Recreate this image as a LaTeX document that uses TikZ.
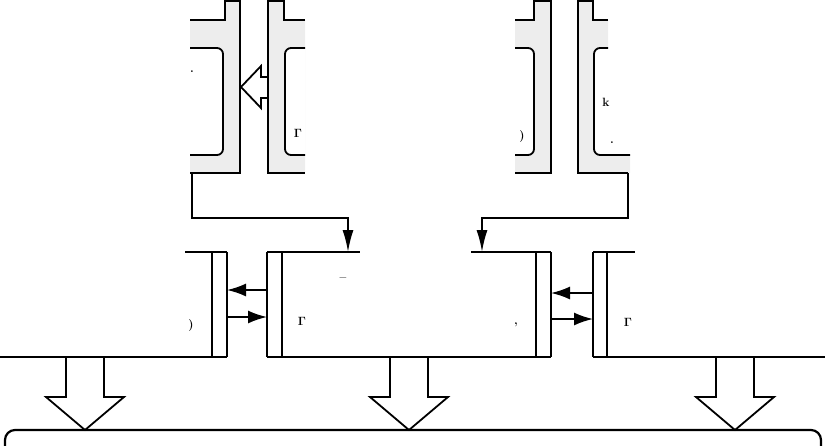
\documentclass[tikz,border=0pt]{standalone}
\usetikzlibrary{arrows.meta,calc}
\begin{document}
\begin{tikzpicture}[x=1pt,y=-1pt,
  ln/.style={line width=1.8pt,line cap=butt,line join=miter},
  grayfill/.style={fill=black!7},
  hollow/.style={draw,fill=white,line width=1.8pt,line join=miter},
  tipsmall/.style={-{Latex[length=19pt,width=13pt]}},
  tiplong/.style={-{Latex[length=22pt,width=11pt]}},
  frag/.style={font=\bfseries\large,inner sep=0pt}]
\useasboundingbox (0,0) rectangle (825,445);
\clip (0,0) rectangle (825,445);

% ---------- top-left pair: left shape ----------
\fill[grayfill] (190,20) -- (225,20) -- (225,1) -- (240,1) -- (240,173) -- (190,173) -- cycle;
\begin{scope}
  \clip (190,0) rectangle (240,200);
  \fill[white,rounded corners=6pt] (170,48) rectangle (223,155);
\end{scope}
\draw[ln,rounded corners=6pt] (190,48) -- (223,48) -- (223,155) -- (190,155);
\draw[ln] (190,20) -- (225,20) -- (225,1) -- (240,1) -- (240,173) -- (190,173);
\coordinate (tlA) at (192,173);

% ---------- top-left pair: right shape ----------
\fill[grayfill] (268,1) -- (284,1) -- (284,20) -- (305,20) -- (305,173) -- (268,173) -- cycle;
\begin{scope}
  \clip (250,0) rectangle (305,200);
  \fill[white,rounded corners=6pt] (285,48) rectangle (330,155);
\end{scope}
\draw[ln,rounded corners=6pt] (305,48) -- (285,48) -- (285,155) -- (305,155);
\draw[ln] (305,20) -- (284,20) -- (284,1) -- (268,1) -- (268,173) -- (305,173);

% hollow arrow between them
\draw[hollow] (241,87) -- (261,66) -- (261,77) -- (268,77) -- (268,98) -- (261,98) -- (261,108) -- cycle;

% ---------- top-right pair: left shape ----------
\fill[grayfill] (515,20) -- (534,20) -- (534,1) -- (551,1) -- (551,173) -- (515,173) -- cycle;
\begin{scope}
  \clip (515,0) rectangle (551,200);
  \fill[white,rounded corners=6pt] (495,48) rectangle (534,155);
\end{scope}
\draw[ln,rounded corners=6pt] (515,48) -- (534,48) -- (534,155) -- (515,155);
\draw[ln] (515,20) -- (534,20) -- (534,1) -- (551,1) -- (551,173) -- (515,173);

% ---------- top-right pair: right shape ----------
\fill[grayfill] (578,1) -- (593,1) -- (593,20) -- (608,20) -- (608,155) -- (630,155) -- (630,173) -- (578,173) -- cycle;
\begin{scope}
  \clip (560,0) rectangle (630,200);
  \fill[white,rounded corners=6pt] (594,48) rectangle (650,155);
\end{scope}
\draw[ln,rounded corners=6pt] (608,48) -- (594,48) -- (594,155) -- (630,155);
\draw[ln] (608,20) -- (593,20) -- (593,1) -- (578,1) -- (578,173) -- (628,173);
\coordinate (trB) at (628,173);

% ---------- middle boxes ----------
\draw[ln] (185,252) -- (227,252);
\draw[ln] (212,252) -- (212,357);
\draw[ln] (227,252) -- (227,357);
\draw[ln] (267,252) -- (360,252);
\draw[ln] (267,252) -- (267,357);
\draw[ln] (282,252) -- (282,357);
\draw[ln] (471,252) -- (551,252);
\draw[ln] (536,252) -- (536,357);
\draw[ln] (551,252) -- (551,357);
\draw[ln] (593,252) -- (635,252);
\draw[ln] (593,252) -- (593,357);
\draw[ln] (607,252) -- (607,357);
\draw[ln] (0,357) -- (227,357);
\draw[ln] (267,357) -- (551,357);
\draw[ln] (593,357) -- (825,357);

\coordinate (b2in) at (348,252);
\coordinate (b3in) at (482,252);

% connectors from top shapes to middle boxes
\draw[ln,tiplong] (tlA) -- ++(0,45) -| (b2in);
\draw[ln,tiplong] (trB) -- ++(0,45) -| (b3in);

% small arrows between middle boxes
\coordinate (b1r1) at (227,290);
\coordinate (b2l1) at (267,290);
\coordinate (b1r2) at (227,317);
\coordinate (b2l2) at (267,317);
\coordinate (b3r1) at (551,293);
\coordinate (b4l1) at (593,293);
\coordinate (b3r2) at (551,319);
\coordinate (b4l2) at (593,319);
\draw[ln,tipsmall] (b2l1) -- (b1r1);
\draw[ln,tipsmall] (b1r2) -- (b2l2);
\draw[ln,tipsmall] (b4l1) -- (b3r1);
\draw[ln,tipsmall] (b3r2) -- (b4l2);

% ---------- big hollow down arrows ----------
\foreach \cx in {85,409,735} {
  \draw[hollow] (\cx-19,357) -- (\cx-19,397) -- (\cx-39,397) -- (\cx,430)
     -- (\cx+39,397) -- (\cx+19,397) -- (\cx+19,357) -- cycle;
}

% ---------- bottom rounded box ----------
\draw[line width=2.2pt,rounded corners=10pt] (5,430) rectangle (821,490);

% ---------- text fragments ----------
\node[frag] (f1) at (192,72) {.};
\node[frag] (f2) at (298,133) {$\mathbf{\Gamma}$};
\node[frag] (f3) at (522,137) {)};
\node[frag] (f4) at (606,102) {k};
\node[frag] (f5) at (612,143) {.};
\node[frag] (f6) at (343,280) {--};
\node[frag] (f7) at (191,325) {)};
\node[frag] (f8) at (302,321) {$\mathbf{\Gamma}$};
\node[frag] (f9) at (516,325) {,};
\node[frag] (f10) at (628,322) {$\mathbf{\Gamma}$};
\end{tikzpicture}
\end{document}
